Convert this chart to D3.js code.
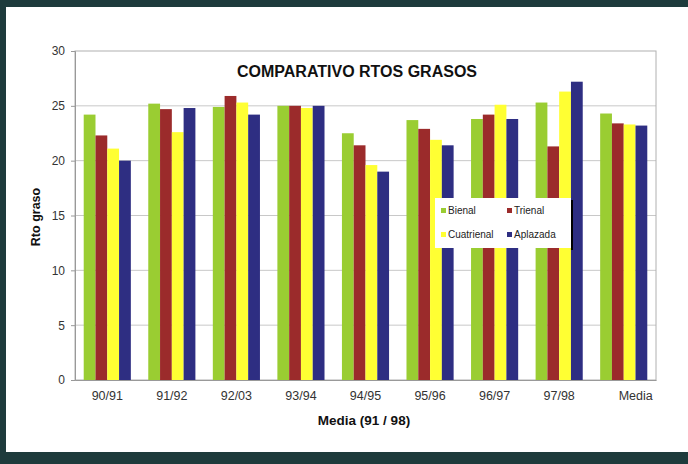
<!DOCTYPE html>
<html><head><meta charset="utf-8">
<script src="https://cdn.jsdelivr.net/npm/d3@7"></script>
<style>body{margin:0;background:#1e3b3c;}svg{display:block;font-family:Arial,"Liberation Sans",sans-serif;}</style>
</head><body><svg id="c" width="688" height="464"></svg>
<script>
const categories = ["90/91","91/92","92/03","93/94","94/95","95/96","96/97","97/98","Media"];
const seriesNames = ["Bienal","Trienal","Cuatrienal","Aplazada"];
const bienal     = [24.2,25.2,24.9,25.0,22.5,23.7,23.8,25.3,24.3];
const trienal    = [22.3,24.7,25.9,25.0,21.4,22.9,24.2,21.3,23.4];
const cuatrienal = [21.1,22.6,25.3,24.8,19.6,21.9,25.1,26.3,23.3];
const aplazada   = [20.0,24.8,24.2,25.0,19.0,21.4,23.8,27.2,23.2];
const yTicks = [0,5,10,15,20,25,30];
const colors = ["#9acd32","#9b2b2b","#ffff33","#2e2e82"];
const values = [bienal,trienal,cuatrienal,aplazada];

const svg = d3.select("#c");
svg.append("rect").attr("x",0).attr("y",0).attr("width",688).attr("height",464).attr("fill","#1e3b3c");
svg.append("rect").attr("x",6).attr("y",7).attr("width",682).attr("height",445).attr("fill","#ffffff");

const L=75,R=656,T=51,B=380;
const x = d3.scaleBand().domain(categories).range([L,R]).paddingInner(0.27).paddingOuter(0.135);
const xs = d3.scaleBand().domain(seriesNames).range([0,x.bandwidth()]);
const y = d3.scaleLinear().domain([0,30]).range([B,T]);

// gridlines
svg.append("g").selectAll("line").data(yTicks.slice(1,-1)).join("line")
  .attr("x1",L).attr("x2",R).attr("y1",d=>y(d)).attr("y2",d=>y(d))
  .attr("stroke","#c8c8c8").attr("stroke-width",1);
svg.append("rect").attr("x",L).attr("y",T).attr("width",R-L).attr("height",B-T)
  .attr("fill","none").attr("stroke","#b0b0b0");

// bars
const g = svg.append("g");
seriesNames.forEach((s,i)=>{
  g.append("g").selectAll("rect").data(values[i]).join("rect")
    .attr("x",(d,j)=>x(categories[j])+xs(s))
    .attr("width",xs.bandwidth())
    .attr("y",d=>y(d)).attr("height",d=>B-y(d))
    .attr("fill",colors[i]);
});

// y axis
const ya = svg.append("g").attr("transform",`translate(${L},0)`)
  .call(d3.axisLeft(y).tickValues(yTicks).tickSize(4).tickPadding(6));
ya.select(".domain").attr("stroke","#999");
ya.selectAll(".tick line").attr("stroke","#999");
ya.selectAll("text").attr("font-size",12).attr("fill","#333").attr("font-family","Arial,'Liberation Sans',sans-serif");

// x axis
const xa = svg.append("g").attr("transform",`translate(0,${B})`)
  .call(d3.axisBottom(x).tickSize(0).tickPadding(11));
xa.select(".domain").attr("stroke","#999");
xa.selectAll("text").attr("font-size",12.5).attr("fill","#333").attr("font-family","Arial,'Liberation Sans',sans-serif")
  .attr("dx",(d,i)=> d==="Media"?12:0);

// titles
svg.append("text").attr("x",357).attr("y",77).attr("text-anchor","middle")
  .attr("font-size",16).attr("font-weight","bold").attr("fill","#111").text("COMPARATIVO RTOS GRASOS");
svg.append("text").attr("x",364).attr("y",425).attr("text-anchor","middle")
  .attr("font-size",13.5).attr("font-weight","bold").attr("fill","#111").text("Media  (91 / 98)");
svg.append("text").attr("transform","translate(40,217) rotate(-90)").attr("text-anchor","middle")
  .attr("font-size",12.5).attr("font-weight","bold").attr("fill","#111").text("Rto graso");

// legend
const lg = svg.append("g").attr("transform","translate(435,198)");
lg.append("rect").attr("x",0).attr("y",0).attr("width",136).attr("height",50).attr("fill","#fff");
lg.append("line").attr("x1",137).attr("x2",137).attr("y1",2).attr("y2",52).attr("stroke","#000").attr("stroke-width",2);
const pos = [[6,16],[72,16],[6,40],[72,40]];
seriesNames.forEach((s,i)=>{
  lg.append("rect").attr("x",pos[i][0]).attr("y",pos[i][1]-6).attr("width",5).attr("height",5).attr("fill",colors[i]);
  lg.append("text").attr("x",pos[i][0]+7).attr("y",pos[i][1]).attr("font-size",10).attr("fill","#222").text(s);
});
</script></body></html>
